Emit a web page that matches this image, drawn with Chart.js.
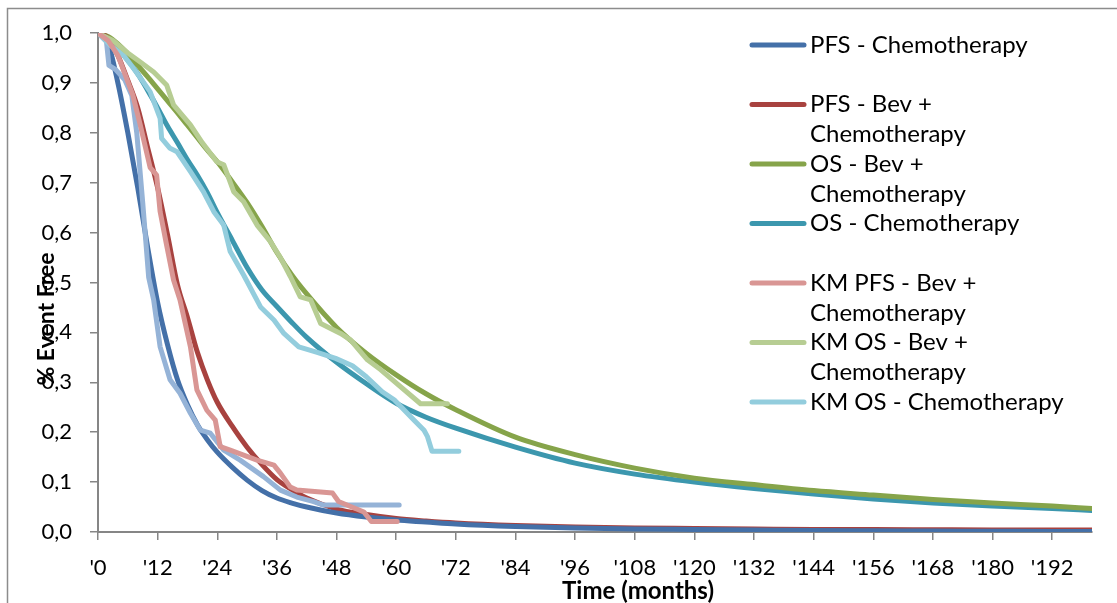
<!DOCTYPE html>
<html>
<head>
<meta charset="utf-8">
<script src="https://cdn.jsdelivr.net/npm/chart.js@4/dist/chart.umd.min.js"></script>
<style>
  html, body { margin:0; padding:0; background:#fff; }
  #wrap { width:1117px; height:603px; position:relative; }
</style>
</head>
<body>
<div id="wrap"><canvas id="chart"></canvas></div>
<script>
// time grid (months) for the fitted curves
const months = [0,2,4,6,8,10,12,14,16,18,20,22,24,27,30,33,36,39,42,48,54,60,66,72,84,96,108,120,132,144,156,168,180,192,200];
const pfsChemo = [1.0,0.98,0.9,0.8,0.69,0.57,0.46,0.375,0.305,0.255,0.215,0.185,0.16,0.13,0.104,0.083,0.068,0.058,0.05,0.038,0.03,0.024,0.02,0.016,0.011,0.008,0.006,0.005,0.004,0.003,0.0025,0.002,0.0015,0.001,0.001];
const pfsBev = [1.0,0.99,0.955,0.905,0.85,0.77,0.69,0.595,0.495,0.43,0.36,0.305,0.26,0.212,0.17,0.135,0.105,0.085,0.068,0.046,0.035,0.027,0.022,0.018,0.013,0.010,0.008,0.007,0.006,0.005,0.005,0.0045,0.004,0.004,0.004];
const osBev = [1.0,0.993,0.978,0.958,0.935,0.912,0.888,0.864,0.84,0.815,0.79,0.765,0.742,0.702,0.66,0.612,0.56,0.515,0.477,0.41,0.358,0.315,0.277,0.245,0.19,0.155,0.128,0.108,0.095,0.083,0.074,0.065,0.058,0.052,0.047];
const osChemo = [1.0,0.99,0.97,0.945,0.918,0.885,0.85,0.813,0.78,0.746,0.715,0.68,0.64,0.585,0.53,0.485,0.452,0.42,0.39,0.34,0.297,0.258,0.23,0.208,0.17,0.138,0.116,0.1,0.087,0.076,0.066,0.058,0.052,0.047,0.043];

// Kaplan-Meier points [month, survival]
const kmPfsBev = [[0,1.0],[2,0.985],[4,0.955],[7,0.876],[8.5,0.816],[10.5,0.73],[11.8,0.715],[12.5,0.642],[13.8,0.575],[15.2,0.505],[16.5,0.465],[18.6,0.371],[19.9,0.285],[21.9,0.244],[23.6,0.224],[24.6,0.171],[26.6,0.164],[32,0.144],[35.4,0.134],[36.7,0.118],[38.7,0.09],[40,0.084],[47.2,0.078],[48.4,0.061],[53.5,0.04],[55,0.021],[60.2,0.021]];
const kmOsBev = [[0,1.0],[3,0.985],[6,0.96],[8.5,0.942],[11.2,0.922],[13.8,0.896],[15.2,0.856],[18.6,0.816],[21,0.78],[23.9,0.742],[25.3,0.736],[27.3,0.682],[29.3,0.662],[32,0.615],[34.7,0.582],[36.7,0.55],[38.7,0.512],[40.7,0.471],[42.8,0.465],[44.8,0.418],[48.8,0.398],[50.8,0.385],[54.2,0.345],[56.9,0.325],[64.9,0.257],[70.3,0.257]];
const kmOsChemo = [[0,1.0],[2.4,0.976],[5.1,0.956],[7.1,0.93],[9.1,0.902],[10.5,0.882],[12.5,0.829],[12.8,0.789],[14.5,0.769],[15.9,0.762],[18.6,0.722],[21.2,0.682],[23.3,0.642],[25.3,0.615],[26.6,0.562],[29.3,0.515],[32.7,0.451],[35.4,0.425],[37.4,0.398],[40.4,0.371],[44.1,0.36],[47.8,0.348],[51.2,0.333],[54,0.311],[57.2,0.281],[59.6,0.265],[63.6,0.224],[65.6,0.204],[66.3,0.191],[67.2,0.162],[72.6,0.162]];
const kmPfsChemo = [[0,1.0],[1.7,0.983],[2.2,0.935],[3.5,0.927],[5.4,0.906],[6.8,0.875],[7.8,0.8],[9,0.66],[10.2,0.51],[11.2,0.465],[12.5,0.371],[14.5,0.305],[16.5,0.278],[18.6,0.238],[20.6,0.204],[22.6,0.198],[25.3,0.164],[28.6,0.144],[33.3,0.111],[36.7,0.084],[40,0.07],[43.4,0.061],[45.4,0.054],[60.6,0.054]];

const xTickValues = [0,12,24,36,48,60,72,84,96,108,120,132,144,156,168,180,192];

const legendLabels = [
  ['PFS - Chemotherapy'],
  ['PFS - Bev +', 'Chemotherapy'],
  ['OS - Bev +', 'Chemotherapy'],
  ['OS - Chemotherapy'],
  ['KM PFS - Bev +', 'Chemotherapy'],
  ['KM OS - Bev +', 'Chemotherapy'],
  ['KM OS - Chemotherapy']
];
const colors = ['#4470a8', '#a8423f', '#86a44a', '#3c97ae', '#d99694', '#b7cd93', '#93cddd', '#95b3d7'];

const FONT = 'Lato, "Open Sans", sans-serif';
const pts = (xs, ys) => xs.map((x, i) => ({x, y: ys[i]}));
const kmPts = (arr) => arr.map(p => ({x: p[0], y: p[1]}));

function line(data, color, smooth, order) {
  return {
    data, borderColor: color, backgroundColor: color, borderWidth: 5,
    pointRadius: 0, fill: false, order,
    borderCapStyle: 'round', borderJoinStyle: 'round',
    cubicInterpolationMode: smooth ? 'monotone' : 'default', tension: 0
  };
}

const decor = {
  id: 'decor',
  afterDraw(chart) {
    const ctx = chart.ctx;
    ctx.save();
    // outer chart border
    ctx.strokeStyle = '#8c8c8c'; ctx.lineWidth = 1.5;
    ctx.strokeRect(7.5, 8.5, 1300, 800);
    ctx.fillStyle = '#000';
    // axis titles
    ctx.textAlign = 'center'; ctx.textBaseline = 'middle';
    ctx.font = 'bold 24px ' + FONT;
    ctx.fillText('Time (months)', 638, 591);
    ctx.font = 'bold 23px ' + FONT;
    ctx.translate(47, 319); ctx.rotate(-Math.PI / 2);
    ctx.fillText('% Event Free', 0, 0);
    ctx.setTransform(1, 0, 0, 1, 0, 0);
    // legend
    ctx.font = '24px ' + FONT;
    ctx.textAlign = 'left';
    ctx.lineCap = 'round'; ctx.lineWidth = 5;
    legendLabels.forEach((lines, i) => {
      const y0 = 45 + i * 59.5;
      ctx.strokeStyle = colors[i];
      ctx.beginPath(); ctx.moveTo(752, y0); ctx.lineTo(804, y0); ctx.stroke();
      lines.forEach((t, j) => ctx.fillText(t, 810, y0 + j * 30));
    });
    ctx.restore();
  }
};

new Chart(document.getElementById('chart'), {
  type: 'line',
  data: {
    datasets: [
      line(pts(months, pfsChemo), colors[0], true, 2),
      line(pts(months, pfsBev), colors[1], true, 2),
      line(pts(months, osBev), colors[2], true, 2),
      line(pts(months, osChemo), colors[3], true, 2),
      line(kmPts(kmPfsBev), colors[4], false, 1),
      line(kmPts(kmOsBev), colors[5], false, 1),
      line(kmPts(kmOsChemo), colors[6], false, 1),
      line(kmPts(kmPfsChemo), colors[7], false, 1)
    ]
  },
  options: {
    responsive: true,
    maintainAspectRatio: false,
    animation: false,
    layout: { padding: { top: 33, right: 25, bottom: 0, left: 0 } },
    plugins: { legend: { display: false }, tooltip: { enabled: false } },
    scales: {
      x: {
        type: 'linear', min: 0, max: 200,
        afterBuildTicks: (a) => { a.ticks = xTickValues.map(v => ({value: v})); },
        afterFit: (s) => { s.height = 71; },
        ticks: { callback: (v) => "'" + v, color: '#000', font: { family: FONT, size: 22 }, padding: 15, autoSkip: false, maxRotation: 0 },
        grid: { drawOnChartArea: false, drawTicks: true, tickLength: 8, color: '#868686', lineWidth: 1.5 },
        border: { color: '#868686', width: 2 }
      },
      y: {
        min: 0, max: 1,
        afterFit: (s) => { s.width = 98; },
        ticks: { stepSize: 0.1, callback: (v) => v.toFixed(1).replace('.', ','), color: '#000', font: { family: FONT, size: 22 }, padding: 18 },
        grid: { drawOnChartArea: false, drawTicks: true, tickLength: 8, color: '#868686', lineWidth: 1.5 },
        border: { color: '#868686', width: 2 }
      }
    }
  },
  plugins: [decor]
});
</script>
</body>
</html>
